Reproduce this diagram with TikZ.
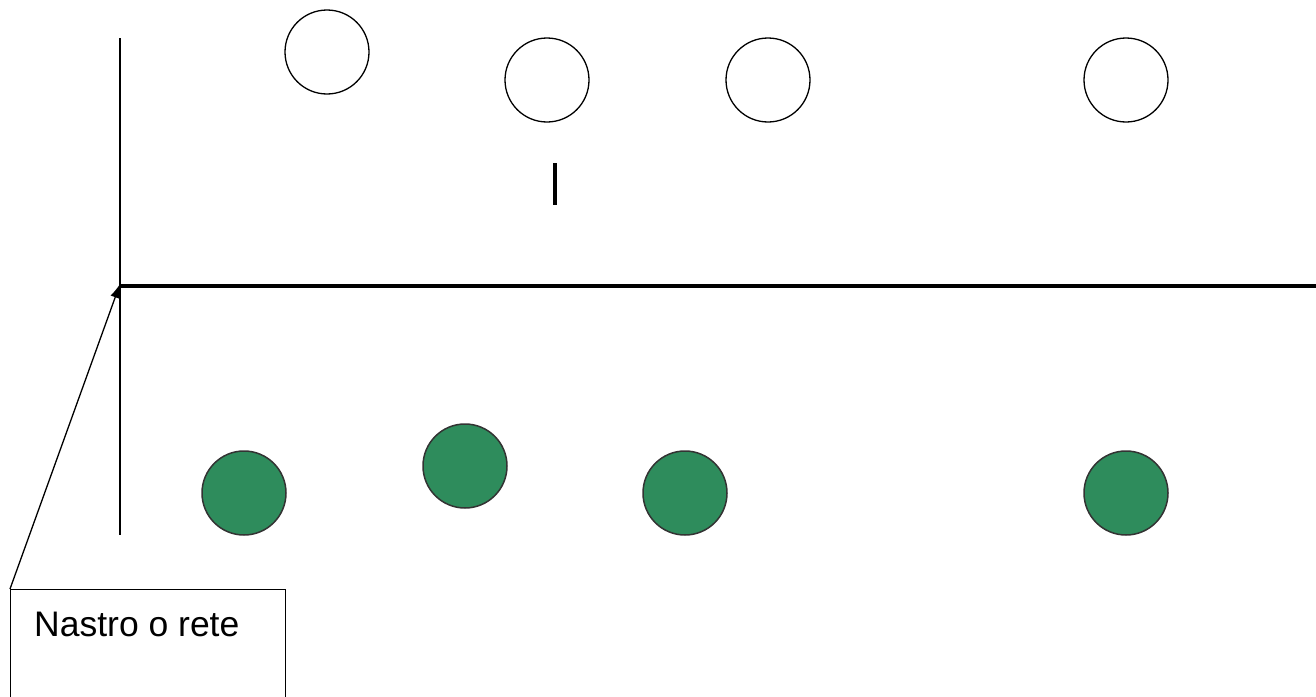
\documentclass[tikz,border=0pt]{standalone}
\usepackage{fontspec}
\setmainfont{Liberation Sans}
\usetikzlibrary{arrows.meta}
\definecolor{ballgreen}{RGB}{46,140,92}
\begin{document}
\begin{tikzpicture}[x=1pt,y=-1pt,
  openball/.style={circle,draw=black,line width=1.3pt,minimum size=84pt,inner sep=0pt,fill=white},
  greenball/.style={circle,draw=black!80,line width=1.5pt,minimum size=84pt,inner sep=0pt,fill=ballgreen},
  thin/.style={line width=1.5pt}]
\useasboundingbox (0,0) rectangle (1316,696);
\begin{scope}
\clip (0,0) rectangle (1316,696);
% axes
\coordinate (vtop) at (120,38);
\coordinate (vbot) at (120,535);
\coordinate (origin) at (120,286);
\coordinate (hend) at (1316,286);
\draw[thin] (vtop) -- (vbot);
\draw[line width=4.5pt] (origin) -- (hend);
% open balls
\node[openball] (o1) at (327,52) {};
\node[openball] (o2) at (547,80) {};
\node[openball] (o3) at (768,80) {};
\node[openball] (o4) at (1126,80) {};
% marker
\coordinate (m1) at (555,163);
\coordinate (m2) at (555,205);
\draw[line width=3.5pt] (m1) -- (m2);
% green balls
\node[greenball] (g1) at (244,493) {};
\node[greenball] (g2) at (465,466) {};
\node[greenball] (g3) at (685,493) {};
\node[greenball] (g4) at (1126,493) {};
% label box
\node[draw=black,line width=1.3pt,anchor=north west,minimum width=275pt,minimum height=140pt,inner sep=0pt] (box) at (10,589) {};
\node[anchor=base west,font=\fontsize{35.5}{40}\selectfont,inner sep=0pt] (lbl) at (34,636) {Nastro o rete};
\draw[line width=1.3pt,-{Latex[length=14pt,width=10pt]}] (box.north west) -- ([yshift=2pt]origin);
\end{scope}
\end{tikzpicture}
\end{document}
